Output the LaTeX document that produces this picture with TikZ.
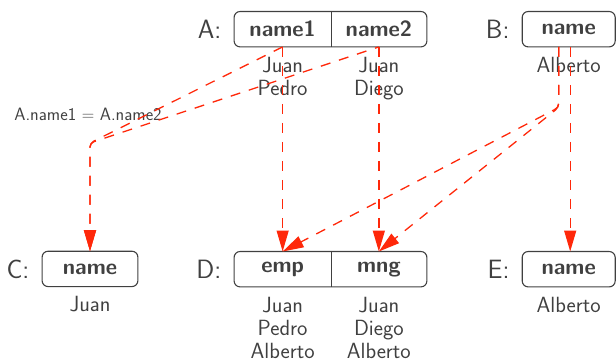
\documentclass[tikz,border=0pt]{standalone}
\usetikzlibrary{arrows.meta,fit,calc}
\definecolor{ink}{RGB}{64,64,64}
\definecolor{arr}{RGB}{255,40,10}
\tikzset{
 cell/.style={minimum height=35pt, inner sep=0pt, font=\fontsize{22}{24}\sffamily\bfseries, text=ink},
 frame/.style={draw=ink, line width=1.1pt, rounded corners=6pt, inner sep=0pt},
 divider/.style={draw=ink, line width=1.1pt},
 tag/.style={font=\fontsize{26.5}{28}\sffamily, text=ink, anchor=east, inner sep=0pt},
 vals/.style={font=\fontsize{22}{23.3}\sffamily, text=ink, align=center, anchor=north, inner sep=0pt},
 note/.style={font=\fontsize{17.9}{20}\sffamily, text=ink, inner sep=0pt},
 link/.style={draw=arr, line width=1.3pt, dash pattern=on 10pt off 9pt, -{Triangle[length=21pt,width=12pt]}, rounded corners=4pt},
}
\begin{document}
\begin{tikzpicture}[x=1pt,y=-1pt]
\useasboundingbox (0,0) rectangle (616,359);
% A
\node[cell, minimum width=96.7pt] (A1) at (282.65,29.2) {name1};
\node[cell, minimum width=95.7pt] (A2) at (378.85,29.2) {name2};
\node[frame, fit=(A1)(A2)] (A) {};
\draw[divider] (A1.north east) -- (A1.south east);
\node[tag] (Al) at ($(A.west)+(-12,0)$) {A:};
\node[vals] (Av1) at ($(A1.south)+(0,9.9)$) {Juan\\Pedro};
\node[vals] (Av2) at ($(A2.south)+(0,9.9)$) {Juan\\Diego};
% B
\node[cell, minimum width=92.6pt] (B1) at (568.7,29.2) {name};
\node[frame, fit=(B1)] (B) {};
\node[tag] (Bl) at ($(B.west)+(-12,0)$) {B:};
\node[vals] (Bv) at ($(B1.south)+(0,9.9)$) {Alberto};
% C
\node[cell, minimum width=95.4pt] (C1) at (90,268.9) {name};
\node[frame, fit=(C1)] (C) {};
\node[tag] (Cl) at ($(C.west)+(-12,0)$) {C:};
\node[vals] (Cv) at ($(C1.south)+(0,9.9)$) {Juan};
% D
\node[cell, minimum width=96.7pt] (D1) at (282.65,269.2) {emp};
\node[cell, minimum width=95.7pt] (D2) at (378.85,269.2) {mng};
\node[frame, fit=(D1)(D2)] (D) {};
\draw[divider] (D1.north east) -- (D1.south east);
\node[tag] (Dl) at ($(D.west)+(-12,0)$) {D:};
\node[vals] (Dv1) at ($(D1.south)+(0,9.9)$) {Juan\\Pedro\\Alberto};
\node[vals] (Dv2) at ($(D2.south)+(0,9.9)$) {Juan\\Diego\\Alberto};
% E
\node[cell, minimum width=92.6pt] (E1) at (568.7,269.2) {name};
\node[frame, fit=(E1)] (E) {};
\node[tag] (El) at ($(E.west)+(-12,0)$) {E:};
\node[vals] (Ev) at ($(E1.south)+(0,9.9)$) {Alberto};
% join note
\coordinate (J) at (90,143);
\node[note] (N) at (88,114) {A.name1 \(=\) A.name2};
\coordinate (K) at ($(B1.south)+(-10,60.5)$);
% links
\draw[link] (A1.south) -- (D1.north);
\draw[link] (A2.south) -- (D2.north);
\draw[link] (A1.south) -- (J) -- (C1.north);
\draw[link, dash phase=5.9pt] (A2.south) -- (J) -- (C1.north);
\draw[link] ([xshift=-10pt]B1.south) -- (K) -- (D1.north);
\draw[link] ([xshift=-10pt]B1.south) -- (K) -- (D2.north);
\draw[link] ([xshift=1.5pt]B1.south) -- ([xshift=1.5pt]E1.north);
\end{tikzpicture}
\end{document}
